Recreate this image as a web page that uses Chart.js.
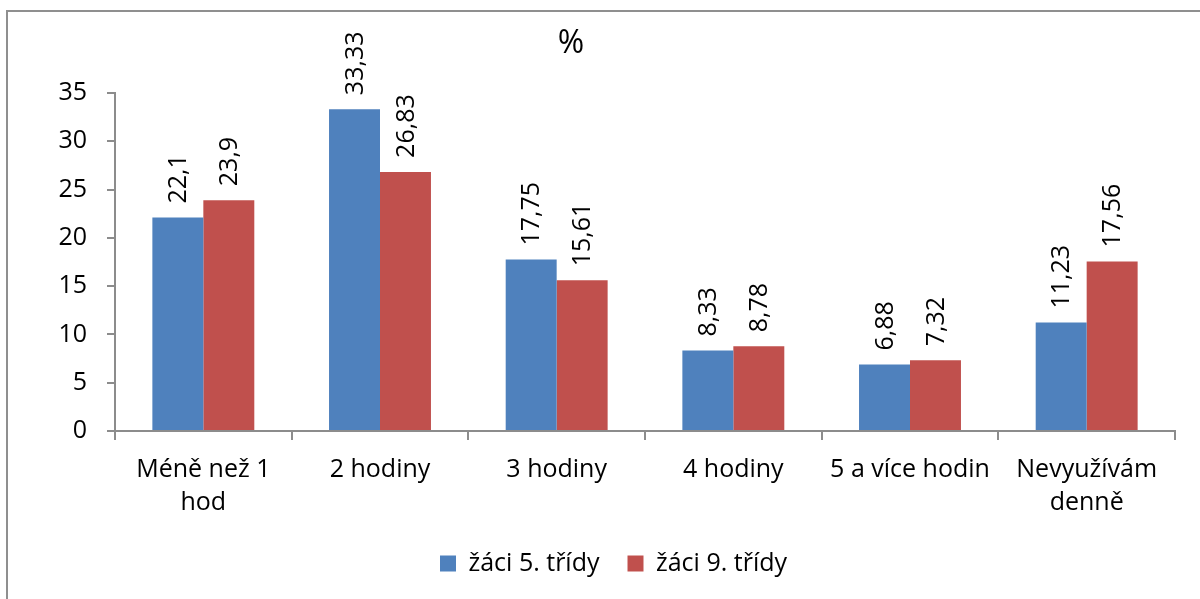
<!DOCTYPE html>
<html lang="cs">
<head>
<meta charset="utf-8">
<title>Denní využívání – žáci 5. a 9. třídy</title>
<script src="https://cdn.jsdelivr.net/npm/chart.js@4/dist/chart.umd.min.js"></script>
<style>
  html, body { margin: 0; padding: 0; background: #fff; }
  #wrap { position: relative; width: 1200px; height: 599px; overflow: hidden; }
  #frame { position: absolute; left: 6px; top: 10px; width: 1300px; height: 700px;
           border-top: 2px solid #8f8f8f; border-left: 2px solid #8f8f8f; pointer-events: none; }
  canvas { position: absolute; left: 0; top: 0; }
</style>
</head>
<body>
<div id="wrap">
  <canvas id="chart" width="1200" height="599"></canvas>
  <div id="frame"></div>
</div>
<script>
// Categories (x axis), multi-line labels as arrays
const categories = [
  ['Méně než 1', 'hod'],
  '2 hodiny',
  '3 hodiny',
  '4 hodiny',
  '5 a více hodin',
  ['Nevyužívám', 'denně']
];
// Share of pupils in percent
const grade5 = [22.1, 33.33, 17.75, 8.33, 6.88, 11.23];
const grade9 = [23.9, 26.83, 15.61, 8.78, 7.32, 17.56];
const seriesNames = ['žáci 5. třídy', 'žáci 9. třídy'];
const yTicks = { min: 0, max: 35, step: 5 };
const chartTitle = '%';

const FONT = '"Open Sans", "DejaVu Sans", sans-serif';
const AXIS_COLOR = '#8c8c8c';

// Vertical value labels above each bar, decimal comma
const valueLabels = {
  id: 'valueLabels',
  afterDatasetsDraw(chart) {
    const ctx = chart.ctx;
    ctx.save();
    ctx.font = '25px ' + FONT;
    ctx.fillStyle = '#000';
    ctx.textAlign = 'left';
    ctx.textBaseline = 'middle';
    chart.data.datasets.forEach((ds, di) => {
      const meta = chart.getDatasetMeta(di);
      meta.data.forEach((bar, i) => {
        const txt = String(ds.data[i]).replace('.', ',');
        ctx.save();
        ctx.translate(bar.x, bar.y - 14);
        ctx.rotate(-Math.PI / 2);
        ctx.fillText(txt, 0, 1);
        ctx.restore();
      });
    });
    ctx.restore();
  }
};

// "%" heading above the plot
const heading = {
  id: 'heading',
  afterDraw(chart) {
    const ctx = chart.ctx;
    ctx.save();
    ctx.font = '32px ' + FONT;
    ctx.fillStyle = '#000';
    ctx.textAlign = 'center';
    ctx.textBaseline = 'middle';
    ctx.fillText(chartTitle, 571, 44);
    ctx.restore();
  }
};

new Chart(document.getElementById('chart'), {
  type: 'bar',
  data: {
    labels: categories,
    datasets: [
      { label: seriesNames[0], data: grade5, backgroundColor: '#4f81bd', borderWidth: 0,
        categoryPercentage: 0.577, barPercentage: 1 },
      { label: seriesNames[1], data: grade9, backgroundColor: '#c0504d', borderWidth: 0,
        categoryPercentage: 0.577, barPercentage: 1 }
    ]
  },
  options: {
    responsive: false,
    animation: false,
    devicePixelRatio: 1,
    layout: { padding: { left: 52, right: 25, top: 93, bottom: 13 } },
    plugins: {
      title: { display: false },
      tooltip: { enabled: false },
      legend: {
        position: 'bottom',
        labels: {
          boxWidth: 16, boxHeight: 16, padding: 28,
          color: '#000',
          font: { family: FONT, size: 25 }
        }
      }
    },
    scales: {
      x: {
        grid: { display: true, drawOnChartArea: false, offset: true,
                color: AXIS_COLOR, lineWidth: 2, tickLength: 9 },
        border: { display: true, color: AXIS_COLOR, width: 2 },
        ticks: { color: '#000', font: { family: FONT, size: 25, lineHeight: 1.32 },
                 padding: 13, maxRotation: 0, autoSkip: false },
        afterFit(scale) { scale.height = 92; }
      },
      y: {
        min: yTicks.min, max: yTicks.max,
        grid: { display: true, drawOnChartArea: false, color: AXIS_COLOR, lineWidth: 2, tickLength: 8 },
        border: { display: true, color: AXIS_COLOR, width: 2 },
        ticks: { stepSize: yTicks.step, color: '#000', font: { family: FONT, size: 25 }, padding: 20 },
        afterFit(scale) { scale.width = 63; }
      }
    }
  },
  plugins: [valueLabels, heading]
});
</script>
</body>
</html>
